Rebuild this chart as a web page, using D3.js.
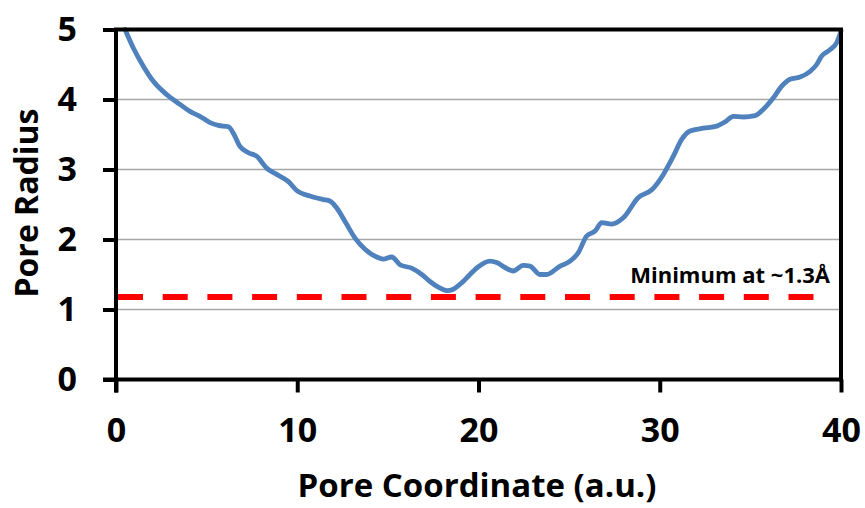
<!DOCTYPE html>
<html>
<head>
<meta charset="utf-8">
<script src="https://cdn.jsdelivr.net/npm/d3@7"></script>
<style>
  html, body { margin: 0; padding: 0; background: #ffffff; }
  svg { display: block; }
  text { font-family: "Open Sans", "Noto Sans", sans-serif; font-weight: 700; fill: #000; }
</style>
</head>
<body>
<svg id="chart" width="865" height="508"></svg>
<script>
// Pore radius profile along the pore axis
const poreCoord = [0.5, 0.95, 1.5, 2.06, 2.8, 3.53, 4.08, 4.63, 5.19, 5.65, 6.2, 6.47, 6.84, 7.3, 7.76,
  8.31, 8.87, 9.5, 9.97, 10.7, 11.44, 11.8, 12.18, 12.63, 13.19, 13.74, 14.38, 14.75, 15.21, 15.67,
  16.31, 16.87, 17.32, 17.78, 18.25, 18.61, 19.07, 19.53, 19.99, 20.63, 21.0, 21.46, 21.92, 22.47,
  22.84, 23.39, 23.76, 24.5, 25.05, 25.5, 25.97, 26.43, 26.8, 27.35, 27.99, 28.82, 29.56, 30.2,
  30.75, 31.21, 31.67, 32.4, 33.14, 33.6, 34.06, 34.61, 35.26, 35.72, 36.26, 36.73, 37.19, 37.74,
  38.29, 38.66, 38.93, 39.39, 39.76, 40.0];
const poreRadius = [5.0, 4.74, 4.48, 4.26, 4.07, 3.93, 3.83, 3.76, 3.67, 3.63, 3.61, 3.52, 3.33, 3.24, 3.19,
  3.02, 2.93, 2.83, 2.70, 2.62, 2.57, 2.55, 2.45, 2.26, 2.02, 1.86, 1.75, 1.72, 1.75, 1.64,
  1.59, 1.50, 1.40, 1.32, 1.27, 1.29, 1.38, 1.50, 1.61, 1.69, 1.67, 1.60, 1.55, 1.63,
  1.62, 1.50, 1.50, 1.62, 1.69, 1.81, 2.05, 2.12, 2.24, 2.22, 2.31, 2.60, 2.71, 2.93,
  3.19, 3.43, 3.55, 3.59, 3.62, 3.68, 3.76, 3.75, 3.77, 3.86, 4.02, 4.19, 4.29, 4.32,
  4.40, 4.50, 4.62, 4.71, 4.81, 4.98];

// Reference level for the narrowest point
const minLineX = [0, 39.3];
const minLineY = 1.18;
const minLabel = "Minimum at ~1.3Å";

const xTicks = [0, 10, 20, 30, 40];
const yTicks = [0, 1, 2, 3, 4, 5];
const gridTicks = [1, 2, 3, 4];
const xTitle = "Pore Coordinate (a.u.)";
const yTitle = "Pore Radius";

const svg = d3.select("#chart");
const plot = { left: 116, right: 841, top: 29.5, bottom: 379.5 };

const x = d3.scaleLinear().domain([0, 40]).range([plot.left, plot.right]);
const y = d3.scaleLinear().domain([0, 5]).range([plot.bottom, plot.top]);

// horizontal gridlines
svg.append("g")
  .selectAll("line")
  .data(gridTicks)
  .join("line")
  .attr("x1", plot.left).attr("x2", plot.right)
  .attr("y1", d => y(d)).attr("y2", d => y(d))
  .attr("stroke", "#a6a6a6").attr("stroke-width", 1.6);

// dashed minimum line
svg.append("line")
  .attr("x1", x(minLineX[0]) + 2).attr("x2", x(minLineX[1]))
  .attr("y1", y(minLineY)).attr("y2", y(minLineY))
  .attr("stroke", "#ff0000").attr("stroke-width", 6)
  .attr("stroke-dasharray", "25 19.7");

svg.append("text")
  .attr("x", 830).attr("y", 283)
  .attr("text-anchor", "end")
  .style("font-size", "22px")
  .text(minLabel);

// profile curve
const pts = poreCoord.map((c, i) => [c, poreRadius[i]]);
svg.append("path")
  .datum(pts)
  .attr("fill", "none")
  .attr("stroke", "#4f81bd")
  .attr("stroke-width", 4.8)
  .attr("stroke-linejoin", "round")
  .attr("stroke-linecap", "round")
  .attr("d", d3.line().x(d => x(d[0])).y(d => y(d[1])).curve(d3.curveMonotoneX));

// plot frame (top and right edges)
svg.append("path")
  .attr("d", `M${plot.left},${plot.top}H${plot.right}V${plot.bottom}`)
  .attr("fill", "none").attr("stroke", "#000").attr("stroke-width", 4)
  .attr("stroke-linecap", "square");

// axes
const xAxis = svg.append("g")
  .attr("transform", `translate(0,${plot.bottom})`)
  .call(d3.axisBottom(x).tickValues(xTicks).tickSize(13).tickPadding(25).tickFormat(d3.format("d")));
const yAxis = svg.append("g")
  .attr("transform", `translate(${plot.left},0)`)
  .call(d3.axisLeft(y).tickValues(yTicks).tickSize(13).tickPadding(26).tickFormat(d3.format("d")));

[xAxis, yAxis].forEach(g => {
  g.select(".domain").attr("stroke", "#000").attr("stroke-width", 4);
  g.selectAll(".tick line").attr("stroke", "#000").attr("stroke-width", 4);
  g.selectAll(".tick text")
    .attr("fill", "#000")
    .style("font-family", "\"Open Sans\", sans-serif")
    .style("font-weight", 700)
    .style("font-size", "34px");
});
xAxis.selectAll(".domain").attr("d", `M${plot.left - 13},0H${plot.right}`);
yAxis.selectAll(".domain").attr("d", `M0,${plot.top}V${plot.bottom + 13}`);

// axis titles
svg.append("text")
  .attr("x", 477).attr("y", 497)
  .attr("text-anchor", "middle")
  .style("font-size", "33px")
  .text(xTitle);

svg.append("text")
  .attr("transform", "translate(38,203) rotate(-90)")
  .attr("text-anchor", "middle")
  .style("font-size", "32px")
  .text(yTitle);
</script>
</body>
</html>
